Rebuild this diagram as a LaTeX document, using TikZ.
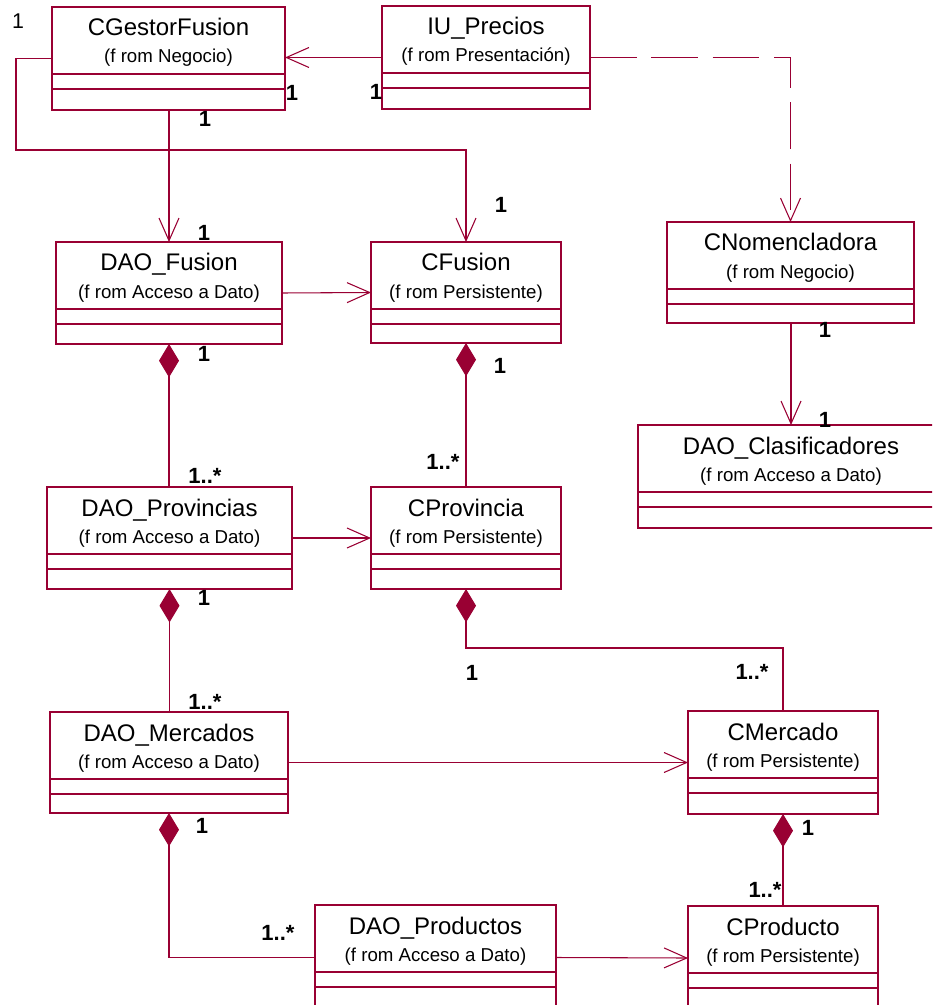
\documentclass[tikz,border=0pt]{standalone}
\usepackage{fontspec}
\setmainfont{Liberation Sans}
\usetikzlibrary{arrows.meta}
\definecolor{umlred}{RGB}{153,0,51}
\tikzset{
  classbox/.style={draw=umlred, line width=1pt, rectangle, inner sep=0pt, outer sep=0pt, fill=white},
  classname/.style={anchor=base, inner sep=0pt, font=\fontsize{18}{21}\selectfont},
  classpkg/.style={anchor=base, inner sep=0pt, font=\fontsize{14}{17}\selectfont},
  compart/.style={draw=umlred, line width=0.8pt},
  mult/.style={inner sep=0pt, font=\fontsize{16.5}{19}\selectfont\bfseries},
  assoc/.style={draw=umlred, line width=0.8pt, -{Straight Barb[length=17pt,width=15pt]}},
  depend/.style={assoc, dash pattern=on 35pt off 11pt},
  compose/.style={draw=umlred, line width=0.8pt, {Diamond[length=25pt,width=15pt,fill=umlred]}-},
}
% #1 node name, #2 left, #3 top, #4 right, #5 bottom, #6 class name, #7 package
\newcommand\umlclass[7]{%
  \node[classbox, minimum width={(#4-#2)*0.75pt}, minimum height={(#5-#3)*0.75pt}]
    (#1) at ({(#2+#4)/2},{(#3+#5)/2}) {};
  \node[classname] (#1-name) at ({(#2+#4)/2},{#3+29}) {#6};
  \node[classpkg] (#1-pkg) at ({(#2+#4)/2},{#3+56}) {#7};
  \draw[compart] ([yshift={-67*0.75pt}]#1.north west) -- ([yshift={-67*0.75pt}]#1.north east);
  \draw[compart] ([yshift={-82*0.75pt}]#1.north west) -- ([yshift={-82*0.75pt}]#1.north east);
}
\begin{document}
\begin{tikzpicture}[x=0.75pt, y=-0.75pt]
\useasboundingbox (0,0) rectangle (932,1005);
\clip (0,0) rectangle (932,1005);

% classes
\umlclass{cg}{52}{7}{285}{110}{CGestorFusion}{(f rom Negocio)}
\umlclass{iu}{382}{6}{590}{109}{IU\_Precios}{(f rom Presentación)}
\umlclass{cn}{667}{222}{914}{323}{CNomencladora}{(f rom Negocio)}
\umlclass{dc}{638}{425}{944}{528}{DAO\_Clasificadores}{(f rom Acceso a Dato)}
\umlclass{df}{56}{242}{282}{344}{DAO\_Fusion}{(f rom Acceso a Dato)}
\umlclass{cf}{371}{242}{561}{343}{CFusion}{(f rom Persistente)}
\umlclass{dp}{47}{487}{292}{589}{DAO\_Provincias}{(f rom Acceso a Dato)}
\umlclass{cp}{371}{487}{561}{589}{CProvincia}{(f rom Persistente)}
\umlclass{dm}{50}{712}{288}{813}{DAO\_Mercados}{(f rom Acceso a Dato)}
\umlclass{cm}{688}{711}{878}{814}{CMercado}{(f rom Persistente)}
\umlclass{dpr}{315}{905}{556}{1010}{DAO\_Productos}{(f rom Acceso a Dato)}
\umlclass{cpr}{688}{906}{878}{1010}{CProducto}{(f rom Persistente)}

% associations
\draw[assoc] (iu.west) -- (iu.west -| cg.east);
\draw[assoc] (df.north |- cg.south) -- (df.north);
\draw[assoc] (cg.west) -- ++(-36,0) coordinate (cgbend) -- (cgbend |- 0,150) -| (cf.north);
\draw[depend] (iu.east) -| (cn.north);
\draw[assoc] (dc.north |- cn.south) -- (dc.north);
\draw[assoc] (df.east) -- (cf.west);
\draw[assoc] (dp.east) -- (cp.west);
\draw[assoc] (dm.east) -- (cm.west);
\draw[assoc] (dpr.east) -- (cpr.west);

% compositions
\draw[compose] (df.south) -- (df.south |- dp.north);
\draw[compose] (cf.south) -- (cp.north);
\draw[compose] (dp.south) -- (dp.south |- dm.north);
\draw[compose] (cp.south) -- ++(0,59) -| (cm.north);
\draw[compose] (dm.south) |- (dpr.west);
\draw[compose] (cm.south) -- (cpr.north);

% multiplicities
\node[inner sep=0pt, font=\fontsize{16}{19}\selectfont] (m0) at (18,21) {1};
\node[mult] (m1) at (292,93) {1};
\node[mult] (m2) at (376,92) {1};
\node[mult] (m3) at (205,119) {1};
\node[mult] (m4) at (204,233) {1};
\node[mult] (m5) at (501,205) {1};
\node[mult] (m6) at (204,354) {1};
\node[mult] (m7) at (205,476) {1..*};
\node[mult] (m8) at (500,366) {1};
\node[mult] (m9) at (443,462) {1..*};
\node[mult] (m10) at (825,330) {1};
\node[mult] (m11) at (825,420) {1};
\node[mult] (m12) at (204,598) {1};
\node[mult] (m13) at (205,702) {1..*};
\node[mult] (m14) at (472,673) {1};
\node[mult] (m15) at (752,672) {1..*};
\node[mult] (m16) at (202,826) {1};
\node[mult] (m17) at (278,933) {1..*};
\node[mult] (m18) at (808,828) {1};
\node[mult] (m19) at (765,890) {1..*};
\end{tikzpicture}
\end{document}
